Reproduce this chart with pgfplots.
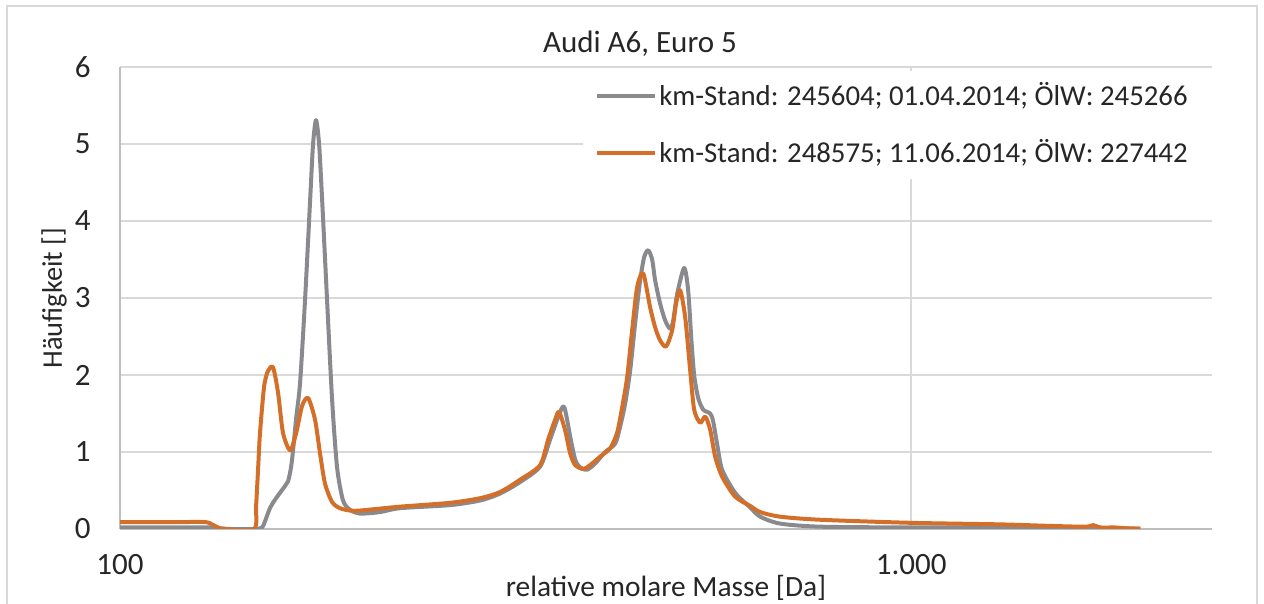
\documentclass[border=0pt]{standalone}
\usepackage{pgfplots}
\pgfplotsset{compat=1.18}
\usepackage{fontspec}
\setmainfont{Carlito}
\usetikzlibrary{calc}

\definecolor{seriesgray}{RGB}{138,138,142}
\definecolor{seriesorange}{RGB}{212,111,42}
\definecolor{gridgray}{RGB}{217,217,217}
\definecolor{axisgray}{RGB}{190,190,190}
\definecolor{textgray}{RGB}{38,38,38}

\begin{document}
\begin{tikzpicture}
% page = chart area (axis box is 546pt x 231pt, anchored at the origin)
\path[use as bounding box] (-60pt,-37.5pt) rectangle (572pt,264.5pt);
\draw[gridgray, line width=1pt] (-56.5pt,-60pt) rectangle (568.5pt,261.5pt);
\fontsize{13.5}{16}\selectfont
\begin{axis}[
  name=ax,
  at={(0pt,0pt)}, anchor=south west,
  scale only axis,
  width=546pt, height=231pt,
  xmode=log,
  xmin=100, xmax=2400,
  ymin=0, ymax=6,
  xtick={100,1000},
  xticklabels={100,1.000},
  minor xtick={},
  minor tick length=0pt,
  tick style={draw=none},
  minor tick style={draw=none},
  ytick={0,1,2,3,4,5,6},
  /pgf/number format/assume math mode=true,
  axis lines*=left,
  axis line style={axisgray, line width=1pt},
  major tick length=0pt,
  grid=major,
  grid style={gridgray, line width=1pt},
  tick label style={textgray, font=\fontsize{15.5}{18}\selectfont},
  xticklabel style={yshift=-8pt},
  yticklabel style={xshift=-10pt},
  legend style={
    at={(rel axis cs:1,0.993)}, anchor=north east,
    draw=none, fill=white,
    inner xsep=6pt, inner ysep=4pt,
    row sep=11pt,
    font=\fontsize{14.4}{17}\selectfont, text=textgray,
    nodes={inner xsep=1pt},
  },
  legend cell align=left,
  legend image code/.code={\draw[#1, line width=2pt] (0pt,0pt) -- (29pt,0pt);},
  every axis plot/.append style={line width=2pt, line join=round, smooth, tension=0.45},
]
\addplot[seriesgray] coordinates {
(100,0.02) (109.1,0.02) (119.1,0.02) (130.0,0.02) (133.8,0.01) (137.8,0)
(148.1,0) (151.2,0.02) (152.5,0.1) (154.7,0.27) (157.0,0.38) (159.3,0.47)
(161.7,0.56) (163.1,0.62) (164.5,0.8) (165.5,1.03) (167.0,1.45) (168.9,1.9)
(171.4,3.0) (173.9,4.27) (175.4,5.0) (176.9,5.31) (178.5,5.0) (180.1,4.27)
(182.7,2.97) (185.4,1.68) (188.1,0.8) (191.4,0.37) (195.3,0.25) (201.1,0.2)
(213.2,0.22) (225.9,0.27) (261.3,0.31) (285.2,0.37) (302.2,0.46) (320.4,0.61)
(339.6,0.81) (349.6,1.16) (357.9,1.45) (364.1,1.59) (370.7,1.2) (376.1,0.9)
(381.5,0.8) (389.4,0.77) (398.6,0.85) (410.4,1.0) (422.6,1.11) (428.7,1.33)
(435.0,1.63) (441.4,2.06) (447.8,2.67) (454.4,3.23) (459.7,3.53) (465.1,3.62)
(470.5,3.5) (474.6,3.23) (481.5,2.93) (488.6,2.71) (495.8,2.6) (500.1,2.7)
(506.0,3.05) (516.4,3.39) (522.5,3.1) (527.1,2.5) (531.7,2.0) (538.0,1.7)
(545.9,1.55) (557.1,1.5) (561.9,1.4) (568.5,1.1) (576.8,0.77) (599.1,0.47)
(625.8,0.28) (644.4,0.16) (683.0,0.07) (767.4,0.03) (1000,0.02) (1296,0.02)
(1734,0.01) (1948,0.005)
};
\addlegendentry{km-Stand: 245604; 01.04.2014; ÖlW: 245266\hspace*{5pt}}
\addplot[seriesorange] coordinates {
(100,0.09) (109.1,0.09) (119.1,0.09) (128.1,0.09) (130.7,0.06) (133.0,0.02)
(135.4,0) (147.7,0) (148.6,0.3) (149.5,0.8) (150.3,1.25) (152.1,1.85)
(153.8,2.05) (156.1,2.1) (158.4,1.77) (160.7,1.25) (164.1,1.02) (167.0,1.25)
(169.9,1.6) (172.9,1.7) (176.4,1.42) (179.0,0.98) (181.6,0.59) (185.4,0.35)
(189.7,0.27) (195.3,0.24) (201.1,0.24) (225.9,0.29) (261.3,0.34) (285.2,0.4)
(302.2,0.48) (320.4,0.64) (339.6,0.83) (347.6,1.16) (354.8,1.42) (358.9,1.52)
(365.3,1.28) (370.7,0.98) (376.1,0.83) (384.9,0.78) (392.9,0.83) (404.5,0.94)
(416.5,1.05) (424.9,1.25) (431.2,1.58) (437.5,1.97) (443.9,2.58) (450.4,3.14)
(458.4,3.32) (467.7,2.88) (474.6,2.62) (481.5,2.45) (490.0,2.37) (498.7,2.58)
(504.5,2.93) (510.5,3.1) (518.0,2.75) (525.6,2.06) (531.7,1.55) (541.1,1.38)
(549.1,1.46) (557.1,1.29) (565.2,0.94) (576.8,0.68) (599.1,0.42) (625.8,0.3)
(644.4,0.22) (683.0,0.16) (767.4,0.12) (1000,0.08) (1296,0.06) (1499,0.04)
(1660,0.03) (1699,0.05) (1734,0.02) (1811,0.02) (1864,0.01) (1948,0.005)
};
\addlegendentry{km-Stand: 248575; 11.06.2014; ÖlW: 227442\hspace*{5pt}}
\end{axis}
\node[textgray, font=\fontsize{15.5}{18}\selectfont] at (260pt,242.5pt) {Audi A6, Euro 5};
\node[textgray, rotate=90, font=\fontsize{14.2}{17}\selectfont] at (-33pt,115.5pt) {Häufigkeit []};
\node[textgray, font=\fontsize{14.7}{17}\selectfont] at (273pt,-29.5pt) {relative molare Masse [Da]};
\end{tikzpicture}
\end{document}
